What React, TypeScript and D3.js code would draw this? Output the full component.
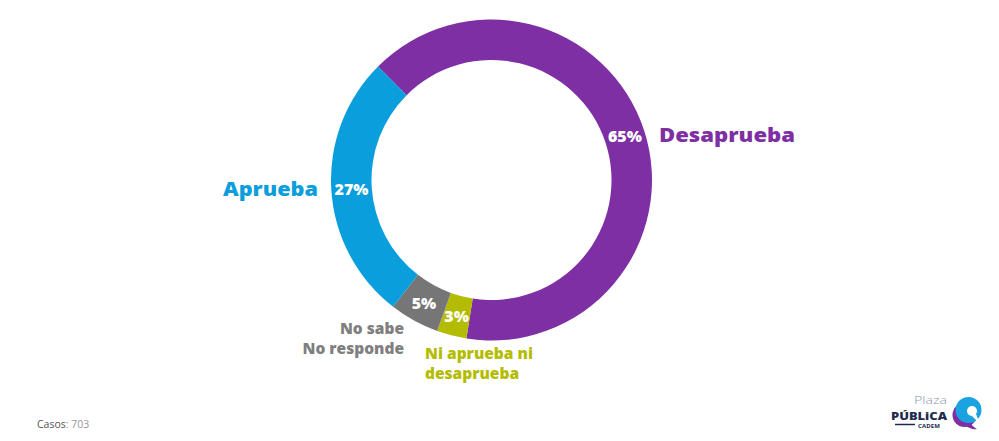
import React from "react";
import * as d3 from "d3";

const categories = ["Desaprueba", "Ni aprueba ni desaprueba", "No sabe No responde", "Aprueba"];
const values = [65, 3, 5, 27];
const colors = ["#7E2FA4", "#B3BC00", "#767676", "#0A9EDC"];
const percentLabels = ["65%", "3%", "5%", "27%"];

const W = 999;
const H = 441;
const CX = 491.5;
const CY = 180;
const R_OUT = 160.5;
const R_IN = 120;
const FONT = "'Open Sans', 'DejaVu Sans', sans-serif";

export default function App() {
  const pie = d3
    .pie<number>()
    .sort(null)
    .value((d) => d)
    .startAngle(-Math.PI / 4)
    .endAngle(-Math.PI / 4 + 2 * Math.PI);
  const arcs = pie(values);
  const arc = d3.arc<d3.PieArcDatum<number>>().innerRadius(R_IN).outerRadius(R_OUT);
  const labelArc = d3
    .arc<d3.PieArcDatum<number>>()
    .innerRadius((R_IN + R_OUT) / 2)
    .outerRadius((R_IN + R_OUT) / 2);

  return (
    <svg
      width={W}
      height={H}
      style={{ position: "absolute", left: 0, top: 0, background: "#fff" }}
      fontFamily={FONT}
    >
      <rect x={0} y={0} width={W} height={H} fill="#fff" />
      <g transform={`translate(${CX},${CY})`}>
        {arcs.map((a, i) => (
          <path key={categories[i]} d={arc(a) || ""} fill={colors[i]} />
        ))}
        {arcs.map((a, i) => {
          const [x, y] = labelArc.centroid(a);
          return (
            <text
              key={"p" + i}
              x={x}
              y={y}
              dy="0.36em"
              textAnchor="middle"
              fill="#fff"
              fontWeight={800}
              fontSize={16}
            >
              {percentLabels[i]}
            </text>
          );
        })}
      </g>

      {/* Category labels */}
      <text x={659} y={141.5} fill={colors[0]} fontWeight={800} fontSize={20} textLength={136} lengthAdjust="spacingAndGlyphs">
        {categories[0]}
      </text>
      <text x={318} y={196} textAnchor="end" fill={colors[3]} fontWeight={800} fontSize={20} textLength={95} lengthAdjust="spacingAndGlyphs">
        {categories[3]}
      </text>
      <text textAnchor="end" fill="#7F7F7F" fontWeight={800} fontSize={15.5}>
        <tspan x={404} y={334}>No sabe</tspan>
        <tspan x={404} y={354}>No responde</tspan>
      </text>
      <text fill={colors[1]} fontWeight={800} fontSize={15.5}>
        <tspan x={425} y={359}>Ni aprueba ni</tspan>
        <tspan x={425} y={379}>desaprueba</tspan>
      </text>

      {/* Casos */}
      <text x={37} y={428} fontSize={10.5} fill="#555">
        Casos<tspan fill="#999">: 703</tspan>
      </text>

      {/* Logo */}
      <g>
        <text x={914} y={404} fontSize={11.5} fill="#8C96AA" fontWeight={300} textLength={33} lengthAdjust="spacingAndGlyphs">
          Plaza
        </text>
        <text x={891} y={419.5} fontSize={10.5} fill="#1F2A4D" fontWeight={800} textLength={56} lengthAdjust="spacingAndGlyphs">
          PÚBLiCA
        </text>
        <line x1={895} x2={915} y1={424.5} y2={424.5} stroke="#1F2A4D" strokeWidth={1.5} />
        <text x={918} y={427.5} fontSize={6} fill="#1F2A4D" fontWeight={700} textLength={22} lengthAdjust="spacing">
          CADEM
        </text>
        <circle cx={964.5} cy={415} r={12} fill="#7E2FA4" />
        <path d="M962,424 C968,428 974,430 977,429 C972,426 970,423 970,420 Z" fill="#7E2FA4" />
        <circle cx={968.5} cy={410} r={13} fill="#1AA3E0" />
        <circle cx={972} cy={411} r={5} fill="#fff" />
        <path d="M972,416 L980,424 L976,414 Z" fill="#fff" />
      </g>
    </svg>
  );
}
